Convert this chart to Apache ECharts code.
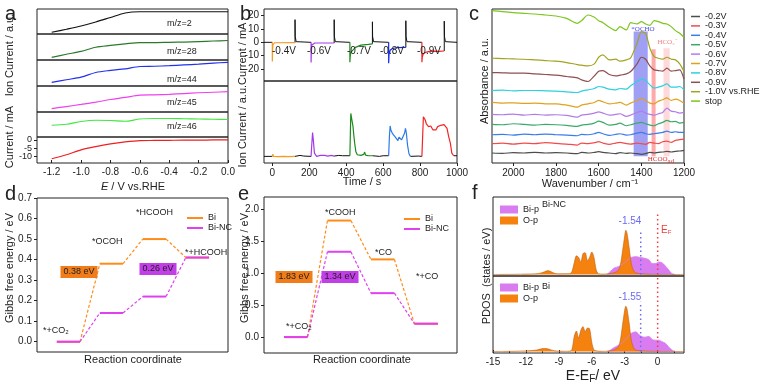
<!DOCTYPE html>
<html><head><meta charset="utf-8">
<script src="https://cdn.jsdelivr.net/npm/echarts@6/dist/echarts.min.js"></script>
<style>html,body{margin:0;padding:0;background:#fff}#c{width:760px;height:382px}</style>
</head><body><div id="c"></div>
<script>
// ---------------- Panel a data ----------------
const aE = [-1.2,-1.1,-1.0,-0.9,-0.8,-0.7,-0.6,-0.5,-0.4,-0.3,-0.2,-0.1,0];
const aMz2  = [0.07,0.19,0.32,0.48,0.66,0.84,0.89,0.89,0.89,0.89,0.89,0.89,0.89];
const aMz28 = [0.10,0.22,0.33,0.49,0.56,0.62,0.67,0.67,0.68,0.69,0.71,0.73,0.75];
const aMz44 = [0.14,0.24,0.34,0.52,0.60,0.66,0.75,0.76,0.78,0.81,0.84,0.88,0.91];
const aMz45 = [0.13,0.21,0.29,0.38,0.48,0.56,0.65,0.66,0.68,0.71,0.74,0.76,0.78];
const aMz46 = [0.47,0.51,0.62,0.67,0.66,0.63,0.72,0.74,0.74,0.73,0.72,0.71,0.70];
const aCurrent = [-11.4,-9,-6,-4,-2.4,-1.2,-0.4,-0.3,-0.2,-0.1,-0.1,0,0];
const aLabels = ['m/z=2','m/z=28','m/z=44','m/z=45','m/z=46'];
const aTicksX = [-1.2,-1.0,-0.8,-0.6,-0.4,-0.2,0.0];
const aTicksY = [-10,0];
const aTicksYMid = [-5];

// ---------------- Panel b data ----------------
const bTopBlack = [
  [[-45,0],[0,0]],
  [[123,-0.2],[123,17],[124,4.5],[127,4],[129,0.5],[135,0],[210,0]],
  [[335,-0.5],[335,17],[336,4.5],[339,4],[341,0.5],[347,0],[420,0]],
  [[542,-1.1],[542,15.4],[543,4.5],[546,4],[548,0.5],[554,0],[630,0]],
  [[723,-3.8],[723,16.2],[724,4.5],[727,4],[729,0.5],[735,0],[810,0]],
  [[931,-6.5],[931,15.9],[932,4.5],[935,4],[937,0.5],[943,0],[1000,0]]
];
const bTopOrange = [[0,0],[0,-14.4],[1,-8],[3,-2],[6,-0.6],[12,-0.3],[123,-0.2]];
const bTopPurple = [[210,0],[210,-15.2],[211,-8],[214,-2],[218,-0.8],[230,-0.5],[335,-0.5]];
const bTopGreen  = [[420,0],[420,-14.9],[422,-10.3],[425,-7.5],[433,-6.2],[450,-3.8],[480,-2.1],[520,-1.5],[542,-1.1]];
const bTopBlue   = [[630,0],[630,-15.6],[632,-9],[638,-6],[650,-4.6],[680,-3.9],[723,-3.8]];
const bTopRed    = [[810,0],[810,-14.9],[812,-11],[818,-8.5],[830,-7.5],[850,-6.8],[880,-6.6],[900,-6.8],[910,-6.3],[931,-6.5]];
const bBotBlack = [
  [[-45,0.2],[0,0.2]],
  [[123,0.2],[150,0.23],[170,0.21],[210,0.2]],
  [[335,0.21],[360,0.23],[380,0.22],[420,0.22]],
  [[542,0.22],[580,0.2],[600,0.22],[630,0.22]],
  [[748,0.2],[790,0.21],[810,0.2]],
  [[982,0.22],[1000,0.22]]
];
const bBotOrange = [[0,0.2],[3,0.27],[6,0.2],[30,0.19],[60,0.2],[90,0.19],[123,0.2]];
const bBotPurple = [[210,0.2],[213,0.5],[218,0.92],[222,0.7],[228,0.3],[240,0.2],[260,0.23],[270,0.2],[285,0.23],[300,0.21],[320,0.23],[335,0.21]];
const bBotGreen  = [[420,0.22],[423,1.0],[425,1.5],[428,1.45],[431,1.3],[434,1.35],[437,1.1],[442,0.8],[446,0.6],[452,0.35],[460,0.25],[480,0.23],[495,0.26],[500,0.33],[505,0.24],[520,0.22],[542,0.22]];
const bBotBlue   = [[630,0.22],[634,0.8],[638,1.12],[642,1.0],[648,0.92],[656,0.85],[666,0.78],[674,0.75],[680,0.68],[686,0.78],[692,0.72],[700,0.7],[710,0.72],[716,0.9],[721,1.05],[726,0.9],[732,0.55],[740,0.28],[748,0.2]];
const bBotRed    = [[810,0.2],[814,0.8],[818,1.4],[822,1.38],[828,1.3],[834,1.18],[840,1.2],[846,1.1],[852,1.05],[858,1.12],[864,1.08],[870,1.0],[878,0.95],[886,1.0],[895,1.1],[904,1.15],[912,1.14],[920,1.18],[930,1.16],[940,1.18],[946,1.05],[955,0.8],[964,0.6],[972,0.3],[982,0.22]];
const bVoltLabels = ['-0.4V','-0.6V','-0.7V','-0.8V','-0.9V'];
const bTicksX = [0,200,400,600,800,1000];
const bTicksY = [-20,-10,0,10,20];

// ---------------- Panel c data ----------------
const cWn = [2100,2050,2000,1950,1900,1850,1800,1750,1700,1680,1650,1620,1600,1580,1550,1520,1500,1470,1450,1420,1400,1380,1360,1340,1320,1300,1280,1260,1240,1220,1200];
const cA02 = [0.30,0.29,0.31,0.30,0.32,0.30,0.31,0.30,0.28,0.32,0.30,0.32,0.34,0.32,0.30,0.28,0.31,0.29,0.30,0.28,0.26,0.28,0.32,0.30,0.32,0.33,0.35,0.33,0.35,0.36,0.38];
const cA03 = [0.58,0.60,0.57,0.60,0.58,0.61,0.59,0.57,0.54,0.60,0.58,0.61,0.64,0.60,0.56,0.60,0.62,0.58,0.57,0.60,0.58,0.56,0.62,0.60,0.58,0.64,0.66,0.62,0.68,0.70,0.72];
const cA04 = [0.85,0.86,0.84,0.87,0.85,0.87,0.85,0.84,0.82,0.86,0.85,0.88,0.92,0.88,0.83,0.86,0.88,0.84,0.85,0.90,0.92,0.88,0.86,0.88,0.90,0.92,0.96,0.92,0.94,0.92,0.92];
const cA05 = [1.16,1.15,1.18,1.16,1.14,1.16,1.15,1.13,1.10,1.14,1.16,1.20,1.26,1.22,1.14,1.16,1.20,1.12,1.15,1.20,1.22,1.18,1.14,1.12,1.18,1.22,1.28,1.24,1.25,1.20,1.22];
const cA06 = [1.46,1.45,1.47,1.44,1.46,1.44,1.45,1.43,1.38,1.44,1.46,1.50,1.54,1.50,1.44,1.46,1.48,1.40,1.44,1.52,1.56,1.50,1.46,1.44,1.48,1.52,1.65,1.56,1.54,1.50,1.52];
const cA07 = [1.82,1.80,1.81,1.79,1.80,1.78,1.78,1.74,1.68,1.74,1.78,1.82,1.88,1.84,1.78,1.80,1.82,1.74,1.80,1.88,1.94,1.88,1.80,1.78,1.86,1.90,1.96,1.88,1.92,1.88,1.80];
const cA08 = [2.18,2.19,2.17,2.18,2.18,2.17,2.16,2.14,2.12,2.16,2.20,2.24,2.30,2.28,2.22,2.20,2.24,2.22,2.32,2.45,2.52,2.48,2.35,2.25,2.28,2.32,2.38,2.28,2.28,2.30,2.20];
const cA09 = [2.72,2.71,2.70,2.70,2.68,2.66,2.64,2.60,2.56,2.50,2.45,2.62,2.76,2.78,2.66,2.62,2.64,2.68,2.75,2.98,3.18,3.12,2.92,2.80,2.78,2.76,2.85,2.76,2.78,2.80,2.52];
const cA10 = [3.15,3.14,3.13,3.12,3.10,3.08,3.06,3.02,2.96,2.94,2.92,2.98,3.18,3.25,3.10,3.12,3.06,3.10,3.16,3.60,3.95,3.90,3.45,3.20,3.15,3.12,3.18,3.12,3.10,2.98,2.75];
const cStop = [4.58,4.55,4.52,4.50,4.48,4.45,4.42,4.35,4.20,4.28,4.45,4.38,4.28,4.22,4.08,3.98,4.10,4.00,4.22,4.18,4.25,4.18,4.14,4.28,4.25,4.20,4.18,4.10,3.98,3.90,3.78];
const cNames = ['-0.2V','-0.3V','-0.4V','-0.5V','-0.6V','-0.7V','-0.8V','-0.9V','-1.0V vs.RHE','stop'];
const cBands = [[1436,1370,3.95],[1352,1333,3.42],[1296,1267,3.45]];
const cTicksX = [1200,1400,1600,1800,2000];

// ---------------- Panel d / e data ----------------
const dBi   = [0,0.38,0.50,0.41];
const dBiNC = [0,0.14,0.22,0.41];
const eBi   = [0,1.83,1.22,0.21];
const eBiNC = [0,1.34,0.69,0.21];
const dTicksY = [0,0.1,0.2,0.3,0.4,0.5,0.6,0.7];
const eTicksY = [0,0.5,1.0,1.5,2.0];

// ---------------- Panel f data ----------------
const fEO = [-15,-13,-12,-11,-10.6,-10.3,-10,-9.7,-9.4,-9,-8.5,-8,-7.8,-7.6,-7.4,-7.2,-7.0,-6.8,-6.6,-6.4,-6.2,-6.0,-5.8,-5.6,-5.4,-5,-4.5,-4,-3.6,-3.4,-3.2,-3.0,-2.9,-2.8,-2.6,-2.4,-2.2,-2.0,-1.5,-1,0,1,2.4];
const fOpNC = [0,0.002,0.005,0.01,0.02,0.035,0.05,0.035,0.015,0.008,0.01,0.01,0.04,0.15,0.24,0.22,0.16,0.27,0.28,0.18,0.22,0.29,0.22,0.06,0.01,0.005,0.008,0.02,0.05,0.12,0.3,0.5,0.57,0.54,0.35,0.14,0.05,0.02,0.01,0.005,0,0,0];
const fOpBi = [0,0.003,0.008,0.02,0.035,0.04,0.035,0.02,0.01,0.005,0.003,0.005,0.03,0.2,0.27,0.18,0.28,0.33,0.26,0.31,0.30,0.12,0.02,0.01,0.005,0.003,0.005,0.02,0.06,0.15,0.35,0.55,0.6,0.57,0.38,0.15,0.05,0.02,0.01,0.005,0,0,0];
const fEB = [-4.6,-4.3,-4.0,-3.6,-3.2,-2.8,-2.4,-2.0,-1.6,-1.2,-0.8,-0.5,-0.2,0.1,0.4,0.7,1.0,1.3,1.6];
const fBipNC = [0,0.04,0.08,0.1,0.13,0.18,0.22,0.23,0.22,0.21,0.19,0.14,0.14,0.16,0.15,0.11,0.06,0.01,0];
const fBipBi = [0,0.02,0.05,0.08,0.12,0.18,0.24,0.26,0.21,0.19,0.2,0.16,0.15,0.15,0.13,0.11,0.06,0.02,0];
const fDband = [-1.54,-1.55];
const fEF = 0;
const fTicksX = [-15,-12,-9,-6,-3,0];

// ---------------- Build ----------------
const FONT = '"Liberation Sans", Arial, sans-serif';
const TXT = '#222';
const gridBoxes = [
  [37,9,191,25],[37,34,191,26],[37,60,191,26],[37,86,191,26],[37,112,191,25],[37,137,191,26],
  [264,9,193,72],[264,81,193,82],
  [492,9,192,154],
  [37,198,191,154],
  [264,197,193,156],
  [493,197,191,79],[493,276,191,77]
];
const grid = gridBoxes.map(b=>({left:b[0],top:b[1],width:b[2],height:b[3],show:true,borderColor:'#222',borderWidth:1,backgroundColor:'transparent'}));

function ax(gi, o){
  return Object.assign({gridIndex:gi,type:'value',axisLine:{show:false,onZero:false},axisTick:{show:false},axisLabel:{show:false},splitLine:{show:false}}, o);
}
function ticks(vals, fmt, inside, fs, lh){
  const lbl={show:true,customValues:vals,fontSize:fs||10,color:TXT,fontFamily:FONT,margin:inside?4:5,hideOverlap:false,showMinLabel:true,showMaxLabel:true,formatter:fmt||(v=>String(v))};
  if(lh) lbl.lineHeight=lh;
  return {
    axisTick:{show:true,inside:!!inside,length:3,lineStyle:{color:'#222',width:1},customValues:vals},
    axisLabel:lbl
  };
}
const xAxis=[], yAxis=[];
for(let i=0;i<6;i++){
  xAxis.push(ax(i, Object.assign({min:-1.3,max:0}, i===5?ticks(aTicksX,v=>v.toFixed(1),true):{})));
  yAxis.push(ax(i, i===5?Object.assign({min:-14,max:1.8},ticks(aTicksY,null,false,9,6)):{min:0,max:1}));
}
xAxis.push(ax(6,{min:-45,max:1000}));
yAxis.push(ax(6,Object.assign({min:-29,max:25},ticks(bTicksY))));
xAxis.push(ax(7,Object.assign({min:-45,max:1000},ticks(bTicksX))));
yAxis.push(ax(7,{min:0,max:2.48}));
xAxis.push(ax(8,Object.assign({min:1200,max:2100,inverse:true},ticks(cTicksX))));
yAxis.push(ax(8,{min:0,max:4.63}));
xAxis.push(ax(9,{min:-0.73,max:3.71}));
yAxis.push(ax(9,Object.assign({min:-0.05,max:0.7},ticks(dTicksY,v=>v.toFixed(1)))));
xAxis.push(ax(10,{min:-0.73,max:3.71}));
yAxis.push(ax(10,Object.assign({min:-0.25,max:2.2},ticks(eTicksY,v=>v.toFixed(1)))));
xAxis.push(ax(11,{min:-15,max:2.4}));
yAxis.push(ax(11,{min:-0.02,max:1}));
xAxis.push(ax(12,Object.assign({min:-15,max:2.4,minorTick:{show:true,splitNumber:2,length:2,lineStyle:{color:'#222'}}},ticks(fTicksX,null,true))));
yAxis.push(ax(12,{min:-0.02,max:1}));
// extra overlaid y axis on the current row to carry the middle tick label
yAxis.push(ax(5,Object.assign({min:-14,max:1.8,position:'left'},ticks(aTicksYMid,null,false,9,6))));

const series=[];
function line(name, gi, data, color, o){
  series.push(Object.assign({type:'line',name,xAxisIndex:gi,yAxisIndex:gi,data,symbol:'none',silent:true,
    lineStyle:{color,width:1.2},itemStyle:{color},animation:false}, o||{}));
}
// a
const aColors=['#111111','#2b7a2b','#2430ee','#ee40ee','#40e840','#ee2020'];
[aMz2,aMz28,aMz44,aMz45,aMz46,aCurrent].forEach((arr,i)=>{
  line('a'+i, i, aE.map((e,k)=>[e,arr[k]]), aColors[i], {smooth:0.3});
});
// b
bTopBlack.forEach((s,i)=>line('bk'+i,6,s,'#111111',{lineStyle:{color:'#111',width:1}}));
line('bo',6,bTopOrange,'#f39c1f');
line('bp',6,bTopPurple,'#a43be6');
line('bg',6,bTopGreen,'#1b8a1b');
line('bb',6,bTopBlue,'#1428f0');
line('br',6,bTopRed,'#f52424');
bBotBlack.forEach((s,i)=>line('bbk'+i,7,s,'#111111',{lineStyle:{color:'#111',width:1}}));
line('bbo',7,bBotOrange,'#f39c1f');
line('bbp',7,bBotPurple,'#a43be6');
line('bbg',7,bBotGreen,'#1b8a1b');
line('bbb',7,bBotBlue,'#2a7be6');
line('bbr',7,bBotRed,'#f52424');
// c
const cColors=['#4d4d4d','#f24b4b','#3b7de9','#3aaa6a','#b07ce8','#e0a21e','#2fd0e0','#8e4f4f','#a3a321','#7cc61e'];
const cBandColors=['rgba(80,80,235,0.55)','rgba(255,100,100,0.55)','rgba(255,150,150,0.35)'];
[cA02,cA03,cA04,cA05,cA06,cA07,cA08,cA09,cA10,cStop].forEach((arr,i)=>{
  const o={smooth:0.25};
  if(i===0){
    o.markArea={silent:true,data:cBands.map((b,k)=>[{xAxis:b[0],yAxis:0.2,itemStyle:{color:cBandColors[k]}},{xAxis:b[1],yAxis:b[2]}])};
  }
  line(cNames[i],8,cWn.map((w,k)=>[w,arr[k]]),cColors[i],o);
});
// d, e
const HW=0.27;
function levels(vals,name,color,gi){
  vals.forEach((g,i)=>{
    line(name,gi,[[i-HW,g],[i+HW,g]],color,{lineStyle:{color,width:2}});
    if(i<vals.length-1) line(name,gi,[[i+HW,g],[i+1-HW,vals[i+1]]],color,{lineStyle:{color,width:1.2,type:[3,2]}});
  });
}
const ORA='#ff8c1a', MAG='#e040f0';
levels(dBi,'Bi',ORA,9); levels(dBiNC,'Bi-NC',MAG,9);
levels(eBi,'Bi',ORA,10); levels(eBiNC,'Bi-NC',MAG,10);
// f
const FMAG='#d97cf0', FORA='#f5820f';
line('Bi-p',11,fEB.map((e,k)=>[e,fBipNC[k]]),FMAG,{smooth:0.3,lineStyle:{color:FMAG,width:0.8},areaStyle:{color:FMAG,opacity:1}});
line('O-p',11,fEO.map((e,k)=>[e,fOpNC[k]]),FORA,{smooth:0.3,lineStyle:{color:'#c06010',width:0.6},areaStyle:{color:FORA,opacity:1}});
line('Bi-p',12,fEB.map((e,k)=>[e,fBipBi[k]]),FMAG,{smooth:0.3,lineStyle:{color:FMAG,width:0.8},areaStyle:{color:FMAG,opacity:1}});
line('O-p',12,fEO.map((e,k)=>[e,fOpBi[k]]),FORA,{smooth:0.3,lineStyle:{color:'#c06010',width:0.6},areaStyle:{color:FORA,opacity:1}});
line('dl1',11,[[fDband[0],0],[fDband[0],0.58]],'#6a6af5',{lineStyle:{color:'#6a6af5',width:1.5,type:[1.5,3]}});
line('ef1',11,[[fEF,0],[fEF,0.8]],'#f03c3c',{lineStyle:{color:'#f03c3c',width:1.5,type:[1.5,3]}});
line('dl2',12,[[fDband[1],0],[fDband[1],0.66]],'#6a6af5',{lineStyle:{color:'#6a6af5',width:1.5,type:[1.5,3]}});
line('ef2',12,[[fEF,0],[fEF,1]],'#f03c3c',{lineStyle:{color:'#f03c3c',width:1.5,type:[1.5,3]}});

// legends
const legTxt={fontSize:9,color:TXT,fontFamily:FONT};
const legend=[
  {data:cNames,left:686,top:7,orient:'vertical',icon:'rect',itemWidth:9,itemHeight:1.5,itemGap:0.4,textStyle:Object.assign({lineHeight:9},legTxt),selectedMode:false},
  {data:['Bi','Bi-NC'],left:182,top:208,orient:'vertical',icon:'rect',itemWidth:16,itemHeight:2,itemGap:0,textStyle:Object.assign({lineHeight:10},legTxt),selectedMode:false},
  {data:['Bi','Bi-NC'],left:399,top:209,orient:'vertical',icon:'rect',itemWidth:16,itemHeight:2,itemGap:0,textStyle:Object.assign({lineHeight:10},legTxt),selectedMode:false},
  {data:['Bi-p','O-p'],left:495,top:200,orient:'vertical',icon:'rect',itemWidth:18,itemHeight:8,itemGap:2,textStyle:legTxt,selectedMode:false},
  {data:['Bi-p','O-p'],left:495,top:278,orient:'vertical',icon:'rect',itemWidth:18,itemHeight:8,itemGap:2,textStyle:legTxt,selectedMode:false}
];

// texts
function T(x,y,text,o,extra){
  return Object.assign({type:'text',x,y,silent:true,z:100,style:Object.assign({text,font:'10px '+FONT,fill:TXT,textAlign:'left',textVerticalAlign:'middle'},o||{})},extra||{});
}
function R(x,y,text,o){ return T(x,y,text,Object.assign({textAlign:'center',font:'11px '+FONT},o||{}),{rotation:Math.PI/2}); }
const big='20px '+FONT;
const graphic=[
  T(5,14,'a',{font:big}), T(240,14,'b',{font:big}), T(469,14,'c',{font:big}),
  T(5,194,'d',{font:big}), T(238,194,'e',{font:big}), T(472,193,'f',{font:big}),
  // a
  T(133,187,'{i|E} / V vs.RHE',{textAlign:'center',font:'11px '+FONT,rich:{i:{fontStyle:'italic',fontSize:11,fontFamily:FONT}}}),
  R(10,55,'Ion Current / a.u.'), R(10,137,'Current / mA'),
  ...aLabels.map((s,i)=>T(167,[24,52,80,103,127][i],s,{font:'9px '+FONT})),
  // b
  T(362,182,'Time / s',{textAlign:'center',font:'11px '+FONT}),
  R(243,95,'Ion Current / a.u.Current / mA'),
  ...bVoltLabels.map((s,i)=>T([272,307,347,380,417][i],51,s,{font:'10px '+FONT})),
  // c
  T(590,184,'Wavenumber / cm⁻¹',{textAlign:'center',font:'11px '+FONT}),
  R(485,81,'Absorbance / a.u.'),
  T(643,29,'*OCHO',{textAlign:'center',font:'7px "Liberation Serif", serif',fill:'#4848f0'}),
  T(667,42,'HCO₃⁻',{textAlign:'center',font:'7px "Liberation Serif", serif',fill:'#f08080'}),
  T(661,159,'HCOO{s|ad}',{textAlign:'center',font:'7px "Liberation Serif", serif',fill:'#e03030',rich:{s:{fontSize:7,fontFamily:'"Liberation Serif", serif',fill:'#e03030',padding:[5,0,0,0]}}}),
  // d
  T(133,360,'Reaction coordinate',{textAlign:'center',font:'11px '+FONT}),
  R(10,268,'Gibbs free energy / eV'),
  T(43,331,'*+CO₂',{font:'9px '+FONT}),
  T(92,242,'*OCOH',{font:'9px '+FONT}),
  T(136,213,'*HCOOH',{font:'9px '+FONT}),
  T(185,253,'*+HCOOH',{font:'9px '+FONT}),
  T(79,272,'0.38 eV',{textAlign:'center',font:'9px '+FONT,backgroundColor:'#f07d1a',padding:[2,3,1,3]}),
  T(158,269,'0.26 eV',{textAlign:'center',font:'9px '+FONT,backgroundColor:'#c23ee6',padding:[2,3,1,3]}),
  // e
  T(362,360,'Reaction coordinate',{textAlign:'center',font:'11px '+FONT}),
  R(245,268,'Gibbs free energy / eV'),
  T(286,327,'*+CO₂',{font:'9px '+FONT}),
  T(325,213,'*COOH',{font:'9px '+FONT}),
  T(375,253,'*CO',{font:'9px '+FONT}),
  T(416,277,'*+CO',{font:'9px '+FONT}),
  T(294,277,'1.83 eV',{textAlign:'center',font:'9px '+FONT,backgroundColor:'#f07d1a',padding:[2,3,1,3]}),
  T(340,277,'1.34 eV',{textAlign:'center',font:'9px '+FONT,backgroundColor:'#c23ee6',padding:[2,3,1,3]}),
  // f
  T(593,376,'E-E{s|F}/ eV',{textAlign:'center',font:'14px '+FONT,rich:{s:{fontSize:10,fontFamily:FONT,padding:[6,0,0,0]}}}),
  R(487,276,'PDOS  (states / eV)'),
  T(542,205,'Bi-NC',{font:'9px '+FONT}),
  T(542,287,'Bi',{font:'9px '+FONT}),
  T(630,221,'-1.54',{textAlign:'center',font:'10px '+FONT,fill:'#6a6af5'}),
  T(630,297,'-1.55',{textAlign:'center',font:'10px '+FONT,fill:'#6a6af5'}),
  T(661,230,'E{s|F}',{font:'10px '+FONT,fill:'#f03c3c',rich:{s:{fontSize:6,fontFamily:FONT,fill:'#f03c3c',padding:[4,0,0,0]}}})
];

const chart=echarts.init(document.getElementById('c'),null,{renderer:'canvas'});
chart.setOption({animation:false,backgroundColor:'#fff',textStyle:{fontFamily:FONT},grid,xAxis,yAxis,series,legend,graphic});
</script></body></html>
